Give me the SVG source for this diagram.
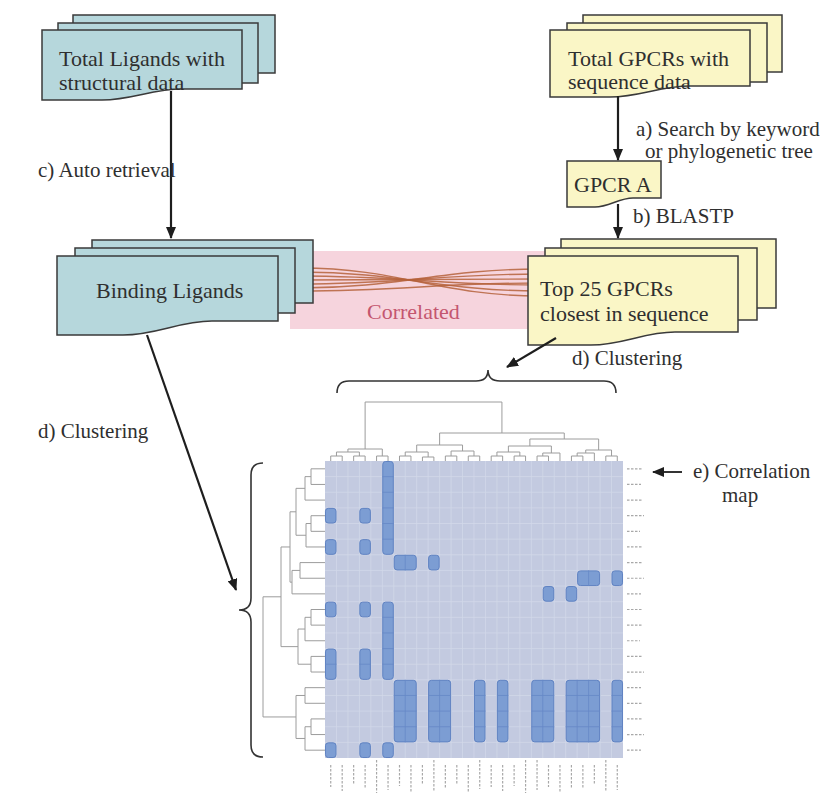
<svg xmlns="http://www.w3.org/2000/svg" width="832" height="795" viewBox="0 0 832 795">
<defs>
<style>
.teal{fill:#b6d7dc;stroke:#3a3a3a;stroke-width:1.5}
.yel{fill:#faf6c6;stroke:#3a3a3a;stroke-width:1.5}
.t{font-family:"Liberation Serif","Times New Roman",serif;font-size:22px;fill:#2f2f2f}
.s{font-size:21px}
.conn{stroke:#1e1e1e;stroke-width:2.2;fill:none;marker-end:url(#ah)}
.ns{vector-effect:non-scaling-stroke}
.dend{fill:none;stroke:#9c9c9c;stroke-width:1}
.blk{fill:#7c9dd3;stroke:#5f82c2;stroke-width:1}
.inner{fill:none;stroke:#6688c6;stroke-width:0.8}
.grid{fill:none;stroke:#d2d8e9;stroke-width:0.8}
.lbl{fill:none;stroke:#a8a8a8;stroke-width:1.2;stroke-dasharray:2.5 1.5}
.brown{fill:none;stroke:#b5623b;stroke-width:1.4;opacity:0.85}
</style>
<marker id="ah" viewBox="0 0 12 10" refX="11" refY="5" markerWidth="12" markerHeight="10" markerUnits="userSpaceOnUse" orient="auto">
<path d="M0 0L12 5L0 10Z" fill="#1e1e1e"/>
</marker>
</defs>
<rect x="0" y="0" width="832" height="795" fill="#ffffff"/>

<g id="correlated-band">
<rect x="290" y="251" width="255" height="78" fill="#f6d4dd"/>
<path class="brown" d="M300 268C400 268 440 296 540 296"/>
<path class="brown" d="M300 272C400 272 440 291 540 291"/>
<path class="brown" d="M300 276C400 276 440 285 540 285"/>
<path class="brown" d="M300 280C400 280 440 279 540 279"/>
<path class="brown" d="M300 284C400 284 440 274 540 274"/>
<path class="brown" d="M300 288C400 288 440 269 540 269"/>
<path class="brown" d="M300 291C400 291 440 283 540 283"/>
<text class="t" x="367" y="319" style="fill:#c4566f">Correlated</text>
</g>

<g id="n-total-ligands">
<rect class="teal" x="73" y="15" width="202" height="58"/>
<rect class="teal" x="58" y="23" width="200" height="60"/>
<path class="teal" d="M42 30H242V89H182C152 89 132 100 102 100H42Z"/>
<text class="t" x="59" y="66">Total Ligands with</text>
<text class="t" x="59" y="90">structural data</text>
</g>

<g id="n-total-gpcrs">
<rect class="yel" x="583" y="15" width="199" height="57"/>
<rect class="yel" x="567" y="23" width="200" height="59"/>
<path class="yel" d="M550 30H750V86H690C660 86 640 97 610 97H550Z"/>
<text class="t" x="568" y="66">Total GPCRs with</text>
<text class="t" x="568" y="89">sequence data</text>
</g>

<g id="n-gpcr-a">
<path class="yel" d="M567 161H661V198H633C619 198 609 207 595 207H567Z"/>
<text class="t" x="574" y="192">GPCR A</text>
</g>

<g id="n-binding-ligands">
<rect class="teal" x="92" y="240" width="221" height="63"/>
<rect class="teal" x="75" y="248" width="220" height="65"/>
<path class="teal" d="M57 256H278V321H212C179 321 157 335 123 335H57Z"/>
<text class="t" x="96" y="298">Binding Ligands</text>
</g>

<g id="n-top25">
<rect class="yel" x="561" y="239" width="215" height="69"/>
<rect class="yel" x="545" y="248" width="212" height="72"/>
<path class="yel" d="M528 256H738V332H675C644 332 623 345 591 345H528Z"/>
<text class="t" x="540" y="296">Top 25 GPCRs</text>
<text class="t" x="540" y="321">closest in sequence</text>
</g>

<g id="connectors">
<path class="conn" d="M171 91V238"/>
<path class="conn" d="M618 96V160"/>
<path class="conn" d="M618 204V238"/>
<path class="conn" d="M147 335L236 590"/>
<path class="conn" d="M556 338L507 367"/>
<path class="conn" d="M682 472H653" style="stroke-width:1.8"/>
</g>

<g id="labels">
<text class="t s" x="38" y="177">c) Auto retrieval</text>
<text class="t s" x="636" y="136">a) Search by keyword</text>
<text class="t s" x="645" y="158">or phylogenetic tree</text>
<text class="t s" x="633" y="223">b) BLASTP</text>
<text class="t s" x="572" y="365">d) Clustering</text>
<text class="t s" x="38" y="438">d) Clustering</text>
<text class="t s" x="693" y="478">e) Correlation</text>
<text class="t s" x="722" y="502">map</text>
</g>

<g id="braces" fill="none" stroke="#333" stroke-width="1.6">
<path d="M337 393Q337 381 349 381H476Q488 381 488 370Q488 381 500 381H604Q616 381 616 393"/>
<path d="M263 463Q251 463 251 475V598Q251 610 239 610Q251 610 251 622V745Q251 757 263 757"/>
</g>

<g id="heatmap" transform="translate(325 461) scale(11.4615 15.6316)">
<rect x="0" y="0" width="26" height="19" fill="#c3cae0"/>
<path class="grid ns" d="M1 0V19M2 0V19M3 0V19M4 0V19M5 0V19M6 0V19M7 0V19M8 0V19M9 0V19M10 0V19M11 0V19M12 0V19M13 0V19M14 0V19M15 0V19M16 0V19M17 0V19M18 0V19M19 0V19M20 0V19M21 0V19M22 0V19M23 0V19M24 0V19M25 0V19M0 1H26M0 2H26M0 3H26M0 4H26M0 5H26M0 6H26M0 7H26M0 8H26M0 9H26M0 10H26M0 11H26M0 12H26M0 13H26M0 14H26M0 15H26M0 16H26M0 17H26M0 18H26"/>
<g>
<rect class="blk ns" x="5.04" y="0.03" width="0.92" height="5.94" rx="0.25" ry="0.18"/>
<rect class="blk ns" x="6.04" y="6.03" width="1.92" height="0.94" rx="0.25" ry="0.18"/>
<rect class="blk ns" x="9.04" y="6.03" width="0.92" height="0.94" rx="0.25" ry="0.18"/>
<rect class="blk ns" x="0.04" y="3.03" width="0.92" height="0.94" rx="0.25" ry="0.18"/>
<rect class="blk ns" x="3.04" y="3.03" width="0.92" height="0.94" rx="0.25" ry="0.18"/>
<rect class="blk ns" x="0.04" y="5.03" width="0.92" height="0.94" rx="0.25" ry="0.18"/>
<rect class="blk ns" x="3.04" y="5.03" width="0.92" height="0.94" rx="0.25" ry="0.18"/>
<rect class="blk ns" x="22.04" y="7.03" width="1.92" height="0.94" rx="0.25" ry="0.18"/>
<rect class="blk ns" x="25.04" y="7.03" width="0.92" height="0.94" rx="0.25" ry="0.18"/>
<rect class="blk ns" x="19.04" y="8.03" width="0.92" height="0.94" rx="0.25" ry="0.18"/>
<rect class="blk ns" x="21.04" y="8.03" width="0.92" height="0.94" rx="0.25" ry="0.18"/>
<rect class="blk ns" x="0.04" y="9.03" width="0.92" height="0.94" rx="0.25" ry="0.18"/>
<rect class="blk ns" x="3.04" y="9.03" width="0.92" height="0.94" rx="0.25" ry="0.18"/>
<rect class="blk ns" x="5.04" y="9.03" width="0.92" height="4.94" rx="0.25" ry="0.18"/>
<rect class="blk ns" x="0.04" y="12.03" width="0.92" height="1.94" rx="0.25" ry="0.18"/>
<rect class="blk ns" x="3.04" y="12.03" width="0.92" height="1.94" rx="0.25" ry="0.18"/>
<rect class="blk ns" x="6.04" y="14.03" width="1.92" height="3.94" rx="0.25" ry="0.18"/>
<rect class="blk ns" x="9.04" y="14.03" width="1.92" height="3.94" rx="0.25" ry="0.18"/>
<rect class="blk ns" x="13.04" y="14.03" width="0.92" height="3.94" rx="0.25" ry="0.18"/>
<rect class="blk ns" x="15.04" y="14.03" width="0.92" height="3.94" rx="0.25" ry="0.18"/>
<rect class="blk ns" x="18.04" y="14.03" width="1.92" height="3.94" rx="0.25" ry="0.18"/>
<rect class="blk ns" x="21.04" y="14.03" width="2.92" height="3.94" rx="0.25" ry="0.18"/>
<rect class="blk ns" x="25.04" y="14.03" width="0.92" height="3.94" rx="0.25" ry="0.18"/>
<rect class="blk ns" x="0.04" y="18.03" width="0.92" height="0.94" rx="0.25" ry="0.18"/>
<rect class="blk ns" x="3.04" y="18.03" width="0.92" height="0.94" rx="0.25" ry="0.18"/>
<rect class="blk ns" x="5.04" y="18.03" width="0.92" height="0.94" rx="0.25" ry="0.18"/>
</g>
<path class="inner ns" d="M5 1H6M5 2H6M5 3H6M5 4H6M5 5H6M5 10H6M5 11H6M5 12H6M5 13H6M0 13H1M3 13H4M7 6V7M23 7V8M7 14V18M10 14V18M19 14V18M22 14V18M23 14V18M6 15H8M6 16H8M6 17H8M9 15H11M9 16H11M9 17H11M13 15H14M13 16H14M13 17H14M15 15H16M15 16H16M15 17H16M18 15H20M18 16H20M18 17H20M21 15H24M21 16H24M21 17H24M25 15H26M25 16H26M25 17H26"/>
</g>

<g id="dendrogram-top" transform="translate(325 0) scale(11.4615 1)">
<path class="dend ns" d="M0.5 461V456H1.5V461M2.5 461V456H3.5V461M1 456V452H3V456M4.5 461V456H5.5V461M2 452V449H5V456M6.5 461V456H7.5V461M8.5 461V457H9.5V461M7 456V452H9V457M10.5 461V456H11.5V461M12.5 461V456H13.5V461M11 456V451H13V456M8 452V445H12V451M14.5 461V456H15.5V461M16.5 461V456H17.5V461M15 456V452H17V456M18.5 461V456H19.5V461M19 456V453H20.5V461M16 452V446H19.75V453M21.5 461V456H22.5V461M22 456V453H23.5V461M24.5 461V456H25.5V461M22.75 453V450H25V456M17.875 446V439H23.875V450M10 445V433H20.875V439M3.5 449V402H15.4375V433"/>
</g>

<g id="dendrogram-left" transform="translate(0 461) scale(1 15.6316)">
<path class="dend ns" d="M325 0.5H311V1.5H325M311 1H305V2.5H325M325 3.5H311V4.5H325M311 4H306V5.5H325M305 1.75H296V4.75H306M325 6.5H300V7.5H325M300 7H292V8.5H325M296 3.25H290V7.75H292M325 9.5H311V10.5H325M311 10H305V11.5H325M325 12.5H311V13.5H325M305 10.75H298V13H311M290 5.5H281V11.875H298M325 14.5H305V15.5H325M325 16.5H311V17.5H325M311 17H305V18.5H325M305 15H296V17.75H305M281 8.6875H263V16.375H296"/>
</g>

<g id="row-labels" transform="translate(0 461) scale(1 15.6316)">
<path class="lbl ns" d="M627 0.5H643M627 1.5H641M627 2.5H642M627 3.5H644M627 4.5H640M627 5.5H643M627 6.5H642M627 7.5H644M627 8.5H641M627 9.5H642M627 10.5H643M627 11.5H640M627 12.5H642M627 13.5H644M627 14.5H641M627 15.5H643M627 16.5H642M627 17.5H644M627 18.5H641"/>
</g>

<g id="col-labels" transform="translate(325 0) scale(11.4615 1)">
<path class="lbl ns" d="M0.5 765V787M1.5 765V791M2.5 765V785M3.5 765V789M4.5 760V793M5.5 765V790M6.5 765V786M7.5 765V792M8.5 765V784M9.5 760V791M10.5 765V788M11.5 765V785M12.5 765V793M13.5 760V789M14.5 765V787M15.5 765V791M16.5 765V786M17.5 760V793M18.5 760V790M19.5 765V787M20.5 765V792M21.5 765V788M22.5 765V789M23.5 765V785M24.5 760V791M25.5 765V790"/>
</g>
</svg>
